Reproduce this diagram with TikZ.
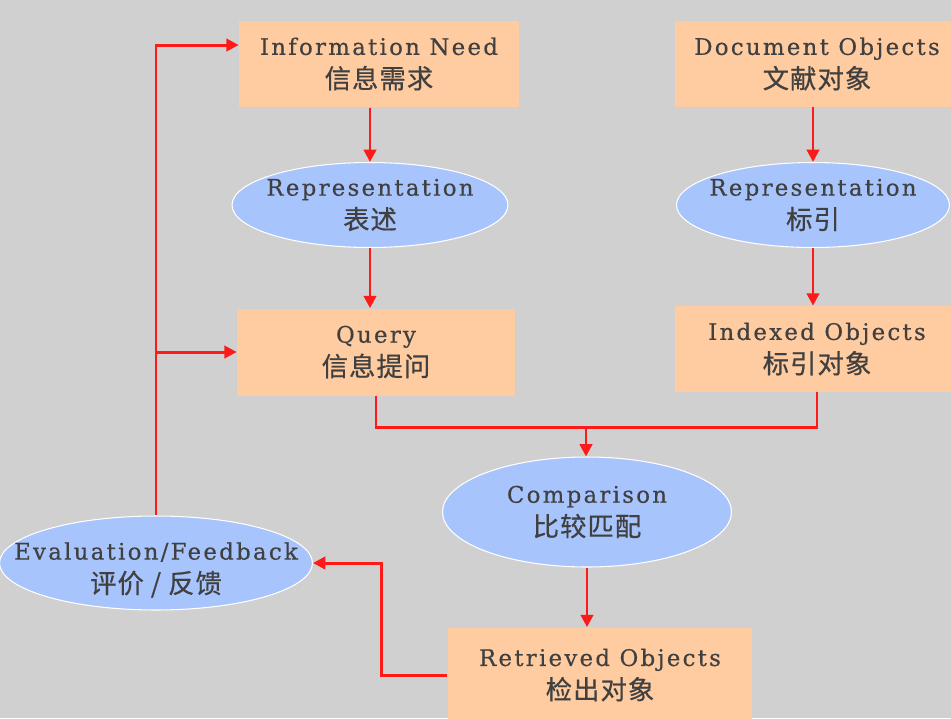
\documentclass[tikz,border=0pt]{standalone}
\usepackage{fontspec}
\setmainfont{DejaVu Serif}[LetterSpace=10,FakeBold=0.5]
\newfontfamily\cjk{Noto Sans CJK SC}[FakeBold=0.6,LetterSpace=4]
\newcommand\zh[1]{{\cjk\fontsize{15}{19}\selectfont #1}}
\usetikzlibrary{shapes.geometric,arrows.meta}
\definecolor{bg}{HTML}{D0D0D0}
\definecolor{peach}{HTML}{FFCBA0}
\definecolor{sky}{HTML}{A8C4FC}
\definecolor{lred}{HTML}{FF1A1A}
\definecolor{txt}{HTML}{404040}

\begin{document}
\begin{tikzpicture}[
  x=0.02cm, y=-0.02cm,
  every node/.style = {align=center, text=txt, font=\fontsize{13}{19}\selectfont},
  box/.style = {shape=rectangle, fill=peach, inner sep=0pt},
  oval/.style = {shape=ellipse, fill=sky, draw=white, line width=0.6pt, inner sep=0pt},
  link/.style = {draw=lred, line width=1.7pt},
  arrowline/.style = {link, -{Triangle[length=7pt,width=7pt]}}
]
  \fill[bg] (0,0) rectangle (951,718);
  \useasboundingbox (0,0) rectangle (951,718);

  \node[box, minimum width=5.6cm, minimum height=1.74cm] (need) at (379,64) {Information Need\\\zh{信息需求}};
  \node[box, minimum width=5.7cm, minimum height=1.72cm] (docs) at (817,64) {Document Objects\\\zh{文献对象}};
  \node[oval, minimum width=5.52cm, minimum height=1.7cm, label=center:{Representation\\\zh{表述}}] (rep) at (370,205) {};
  \node[oval, minimum width=5.46cm, minimum height=1.7cm, label=center:{Representation\\\zh{标引}}] (idx) at (813,205) {};
  \node[box, minimum width=5.56cm, minimum height=1.74cm] (query) at (376,352) {Query\\\zh{信息提问}};
  \node[box, minimum width=5.7cm, minimum height=1.72cm] (indexed) at (817,349) {Indexed Objects\\\zh{标引对象}};
  \node[oval, minimum width=5.78cm, minimum height=2.2cm, label=center:{Comparison\\\zh{比较匹配}}] (cmp) at (587,512) {};
  \node[oval, minimum width=6.26cm, minimum height=1.88cm, label={[yshift=-0.14cm]center:{Evaluation/Feedback\\\zh{评价 / 反馈}}}] (eval) at (156,563) {};
  \node[box, minimum width=6.1cm, minimum height=1.9cm] (ret) at (600,675) {Retrieved Objects\\\zh{检出对象}};

  \coordinate (join) at (586,427);

  \draw[arrowline] (need.south -| rep.north) -- (rep.north);
  \draw[arrowline] (rep.south) -- (rep.south |- query.north);
  \draw[arrowline] (docs.south -| idx.north) -- (idx.north);
  \draw[arrowline] (idx.south) -- (idx.south |- indexed.north);
  \draw[link] (query.south) |- (join) -| (indexed.south);
  \draw[arrowline] (join) -- (join |- cmp.north);
  \draw[arrowline] (cmp.south) -- (cmp.south |- ret.north);
  \draw[arrowline] (ret.west) -- ++(-66,0) |- (eval.east);
  \draw[arrowline] (eval.north) |- ([yshift=0.38cm]need.west);
  \draw[arrowline] (eval.north |- query.west) -- (query.west);
\end{tikzpicture}
\end{document}
